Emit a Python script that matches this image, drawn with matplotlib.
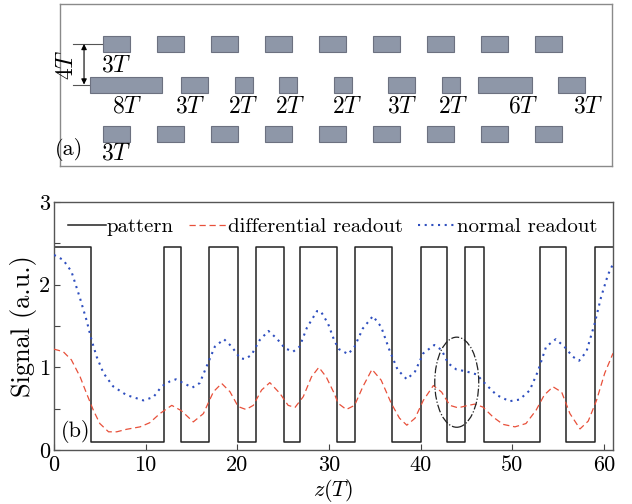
import matplotlib
matplotlib.use("Agg")
import matplotlib.pyplot as plt
from matplotlib.patches import Rectangle, Ellipse

plt.rcParams['font.family'] = ['cmr10', 'DejaVu Serif']
plt.rcParams['mathtext.fontset'] = 'cm'
plt.rcParams['axes.unicode_minus'] = False

# ---------------- panel (a) data (units of T) ----------------
top_starts = [4.8, 10.8, 16.8, 22.8, 28.8, 34.8, 40.8, 46.8, 52.8]
top_len = [3, 3, 3, 3, 3, 3, 3, 3, 3]
mid_starts = [3.35, 13.45, 19.45, 24.35, 30.45, 36.45, 42.45, 46.45, 55.35]
mid_len = [8, 3, 2, 2, 2, 3, 2, 6, 3]
mid_labels = ['8T', '3T', '2T', '2T', '2T', '3T', '2T', '6T', '3T']
mid_label_x = [7.45, 14.45, 20.35, 25.55, 31.9, 38.0, 43.65, 51.45, 58.65]
bot_starts = top_starts
bot_len = top_len

# ---------------- panel (b) data ----------------
pattern_edges = [0, 4.05, 12.05, 13.9, 16.9, 20.05, 22.0, 25.05, 26.8, 30.9,
                 32.9, 36.85, 40.0, 42.9, 44.85, 46.9, 53.0, 55.9, 59.0, 61.0]
pattern_levels = [2.45, 0.1, 2.45, 0.1, 2.45, 0.1, 2.45, 0.1, 2.45, 0.1,
                  2.45, 0.1, 2.45, 0.1, 2.45, 0.1, 2.45, 0.1, 2.45, 2.45]

normal_x = [0.0, 1.0, 1.9, 2.8, 3.55, 4.1, 4.65, 5.4, 6.45, 7.9, 9.75, 10.85,
            11.75, 12.65, 13.3, 14.1, 15.1, 15.9, 16.65, 17.55, 18.55, 19.4,
            20.3, 20.85, 21.55, 22.45, 23.4, 24.3, 25.2, 26.1, 26.8, 27.6,
            28.7, 29.1, 29.9, 30.6, 31.1, 32.1, 32.8, 33.7, 34.8, 35.7, 36.6,
            37.5, 38.5, 39.4, 40.3, 41.5, 42.3, 43.0, 43.9, 45.0, 46.1, 47.2,
            48.3, 49.7, 50.8, 51.9, 52.8, 53.7, 54.75, 55.7, 56.6, 57.3, 58.1,
            59.0, 59.7, 60.45, 61.0]
normal_y = [2.36, 2.30, 2.16, 1.85, 1.57, 1.33, 1.13, 0.93, 0.77, 0.665, 0.60,
            0.64, 0.77, 0.83, 0.855, 0.81, 0.755, 0.81, 1.01, 1.25, 1.34, 1.25,
            1.11, 1.10, 1.15, 1.33, 1.44, 1.35, 1.23, 1.19, 1.25, 1.48, 1.68,
            1.68, 1.53, 1.32, 1.22, 1.16, 1.25, 1.47, 1.62, 1.49, 1.21, 0.97,
            0.855, 0.95, 1.17, 1.27, 1.21, 1.05, 0.975, 0.95, 0.915, 0.785,
            0.665, 0.59, 0.61, 0.72, 0.95, 1.25, 1.34, 1.25, 1.13, 1.08, 1.19,
            1.53, 1.85, 2.12, 2.25]

diff_x = [0.0, 1.0, 1.9, 2.85, 3.55, 4.3, 5.0, 5.95, 6.85, 7.9, 9.4, 10.45,
          11.55, 12.85, 13.9, 15.2, 16.3, 17.4, 18.3, 19.2, 20.1, 20.95, 21.75,
          22.65, 23.55, 24.65, 25.55, 26.3, 27.2, 28.1, 28.9, 29.7, 30.6, 31.0,
          31.9, 32.8, 33.7, 34.7, 35.7, 36.8, 37.7, 38.5, 39.4, 40.3, 41.4,
          42.3, 43.2, 44.1, 45.0, 45.9, 46.8, 47.9, 49.0, 50.3, 51.5, 52.6,
          53.5, 54.45, 55.4, 56.3, 57.4, 58.3, 59.2, 60.1, 61.0]
diff_y = [1.22, 1.19, 1.09, 0.885, 0.685, 0.48, 0.32, 0.22, 0.22, 0.25, 0.28,
          0.33, 0.44, 0.54, 0.475, 0.34, 0.44, 0.705, 0.805, 0.705, 0.525,
          0.49, 0.54, 0.725, 0.815, 0.685, 0.54, 0.515, 0.645, 0.885, 1.0,
          0.885, 0.68, 0.565, 0.49, 0.54, 0.765, 0.975, 0.845, 0.565, 0.385,
          0.30, 0.385, 0.60, 0.78, 0.70, 0.54, 0.51, 0.535, 0.555, 0.52, 0.40,
          0.31, 0.28, 0.32, 0.48, 0.665, 0.765, 0.70, 0.44, 0.255, 0.35, 0.60,
          0.93, 1.17]

ellipse_center = (43.95, 0.82)
ellipse_size = (4.8, 1.09)

fig = plt.figure(figsize=(6.32, 5.04), dpi=100)

# ---------------- panel (a) ----------------
axa = fig.add_axes([60/632, 1-166/504, 552/632, 162/504])
axa.set_xlim(0, 61.33)
axa.set_ylim(18, 0)
axa.set_xticks([])
axa.set_yticks([])
for s in axa.spines.values():
    s.set_color('#8a8a8a')
    s.set_linewidth(1.0)

fc = '#8e97a8'
ec = '#6c7180'
rh = 1.78
for st, ln in zip(top_starts, top_len):
    axa.add_patch(Rectangle((st, 3.56), ln, rh, facecolor=fc, edgecolor=ec, lw=0.8, zorder=3))
for st, ln in zip(mid_starts, mid_len):
    axa.add_patch(Rectangle((st, 8.11), ln, rh, facecolor=fc, edgecolor=ec, lw=0.8, zorder=3))
for st, ln in zip(bot_starts, bot_len):
    axa.add_patch(Rectangle((st, 13.56), ln, rh, facecolor=fc, edgecolor=ec, lw=0.8, zorder=3))

fs_lab = 17
axa.text(top_starts[0] + 1.45, 6.8, r'$3T$', ha='center', va='center', fontsize=fs_lab)
axa.text(bot_starts[0] + 1.45, 16.6, r'$3T$', ha='center', va='center', fontsize=fs_lab)
for lx, lab in zip(mid_label_x, mid_labels):
    axa.text(lx, 11.4, '$' + lab + '$', ha='center', va='center', fontsize=fs_lab)
axa.text(0.95, 16.2, '(a)', ha='center', va='center', fontsize=16)

# 4T dimension
axa.plot([1.45, top_starts[0]], [4.44, 4.44], color='#555555', lw=0.8, zorder=2)
axa.plot([1.45, 5.0], [8.95, 8.95], color='#555555', lw=0.8, zorder=2)
axa.annotate('', xy=(2.67, 4.44), xytext=(2.67, 8.95),
             arrowprops=dict(arrowstyle='<|-|>', color='black', lw=0.8,
                             mutation_scale=8, shrinkA=0, shrinkB=0))
axa.text(0.8, 6.75, r'$4T$', rotation=90, ha='center', va='center', fontsize=fs_lab)

# ---------------- panel (b) ----------------
ax = fig.add_axes([54/632, 1-450/504, 559/632, 248/504])
ax.step(pattern_edges, pattern_levels, where='post', color='#222222', lw=1.1,
        label='pattern', zorder=2)
ax.plot(diff_x, diff_y, color='#e8503a', lw=0.9, ls=(0, (5, 3)),
        label='differential readout', zorder=3)
ax.plot(normal_x, normal_y, color='#2f4fbf', lw=1.5, ls=(0, (1, 2.2)),
        label='normal readout', zorder=3)

ax.add_patch(Ellipse(ellipse_center, ellipse_size[0], ellipse_size[1], fill=False,
                     edgecolor='#222222', lw=0.9, ls='-.', zorder=4))

ax.set_xlim(0, 61)
ax.set_ylim(0, 3)
ax.set_xticks([0, 10, 20, 30, 40, 50, 60])
ax.set_yticks([0, 1, 2, 3])
ax.set_yticks([0.5, 1.5, 2.5], minor=True)
ax.tick_params(axis='both', which='both', direction='in', length=4, width=0.8,
               labelsize=16, top=False, right=False, colors='#444444',
               labelcolor='black')
ax.tick_params(axis='x', pad=4)
ax.tick_params(axis='y', pad=3)
for s in ax.spines.values():
    s.set_color('#555555')
    s.set_linewidth(1.0)

ax.set_ylabel('Signal (a.u.)', fontsize=19, labelpad=1)
ax.set_xlabel(r'$z(T)$', fontsize=16, va='center')
ax.xaxis.set_label_coords(0.5, -40/248)
ax.text(0.7, 0.08, '(b)', fontsize=16, ha='left', va='bottom')

leg = ax.legend(loc='upper right', bbox_to_anchor=(1.0, 1.0), ncol=3,
                frameon=False, fontsize=15, handlelength=1.8, handletextpad=0.05,
                columnspacing=0.75, borderaxespad=0.55, borderpad=0.2)

fig.savefig('out.png', dpi=100, facecolor='white')
